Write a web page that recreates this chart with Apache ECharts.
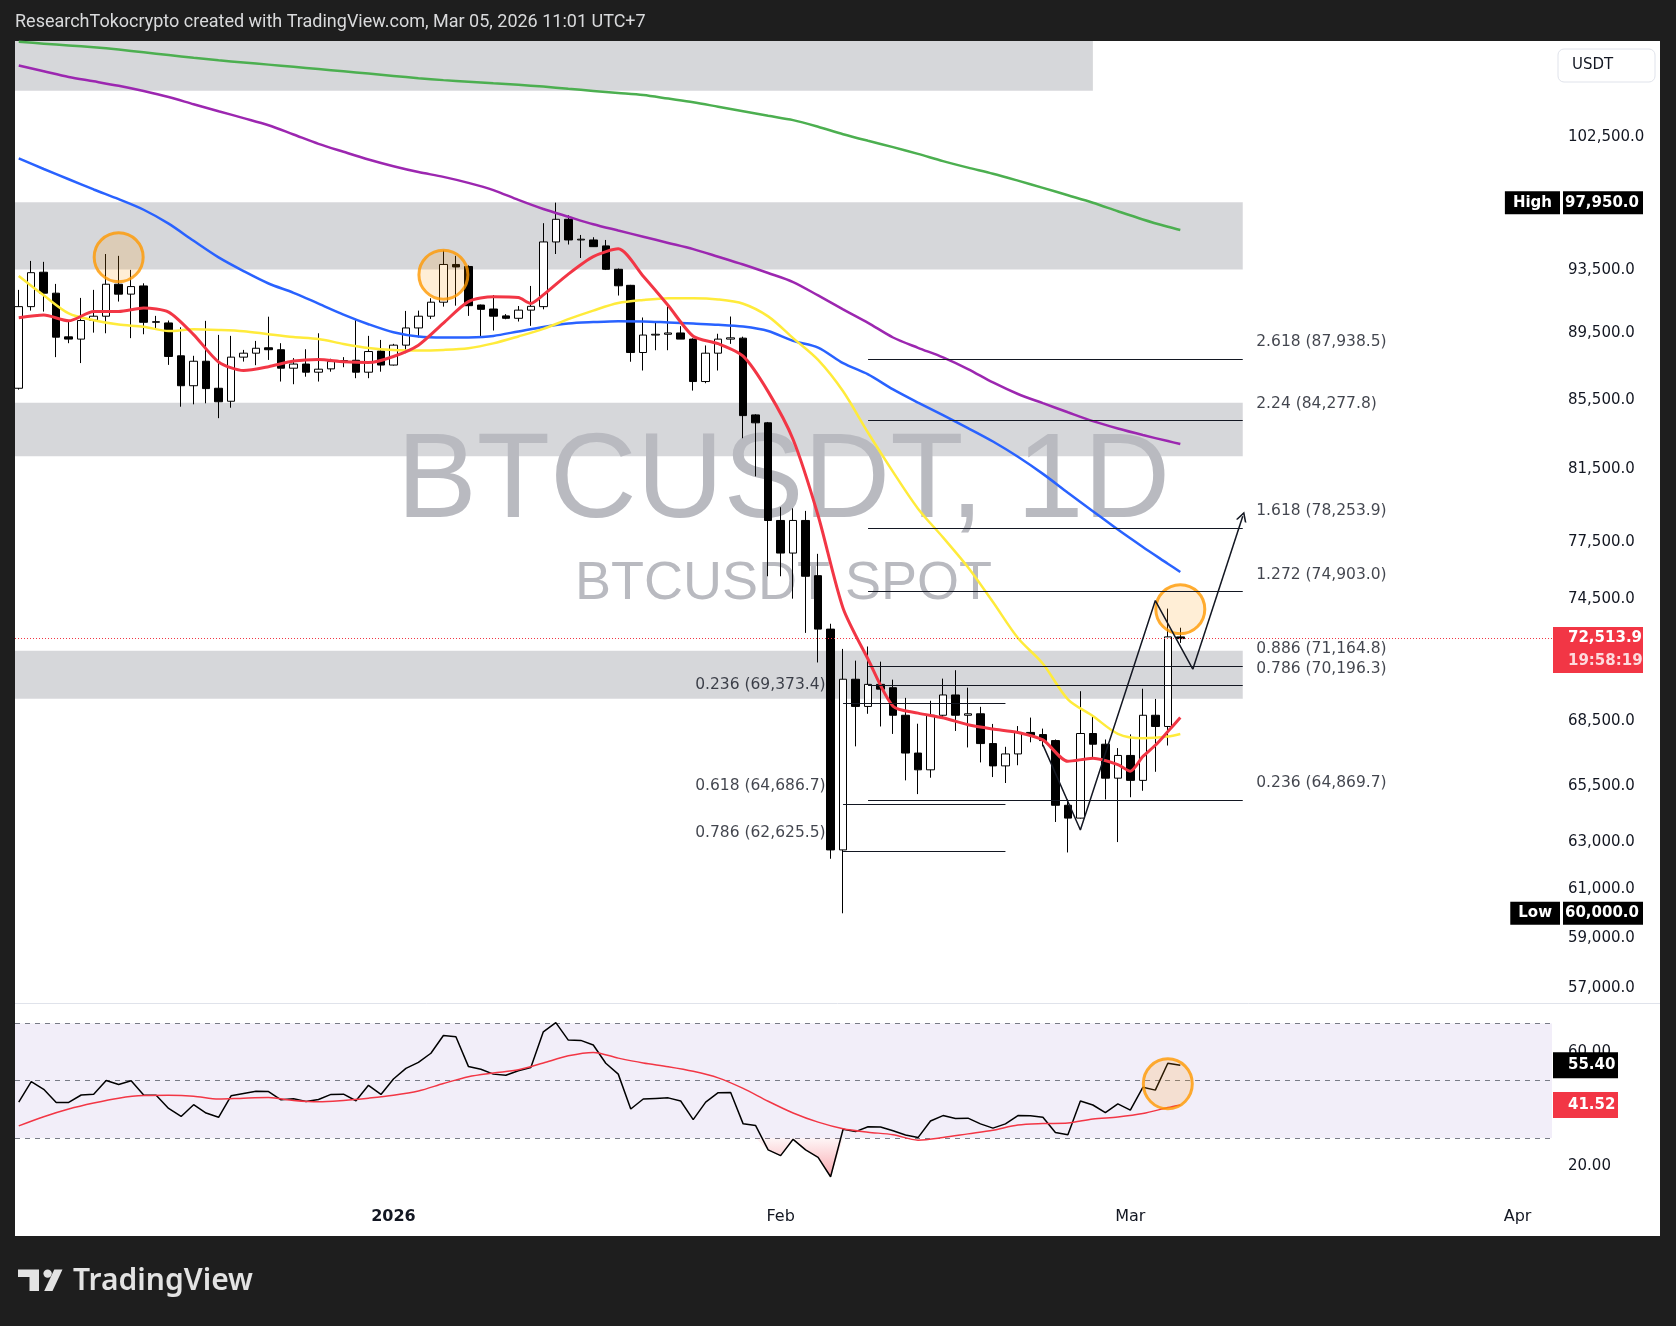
<!DOCTYPE html>
<html><head><meta charset="utf-8">
<script src="https://cdn.jsdelivr.net/npm/echarts@6/dist/echarts.min.js"></script>
<style>html,body{margin:0;padding:0;background:#1e1e1e;}#c{width:1676px;height:1326px;}</style>
</head><body><div id="c"></div>
<script>
// ---------------- DATA ----------------
const dates = ['2025-12-02','2025-12-03','2025-12-04','2025-12-05','2025-12-06','2025-12-07','2025-12-08','2025-12-09','2025-12-10','2025-12-11','2025-12-12','2025-12-13','2025-12-14','2025-12-15','2025-12-16','2025-12-17','2025-12-18','2025-12-19','2025-12-20','2025-12-21','2025-12-22','2025-12-23','2025-12-24','2025-12-25','2025-12-26','2025-12-27','2025-12-28','2025-12-29','2025-12-30','2025-12-31',
'2026-01-01','2026-01-02','2026-01-03','2026-01-04','2026-01-05','2026-01-06','2026-01-07','2026-01-08','2026-01-09','2026-01-10','2026-01-11','2026-01-12','2026-01-13','2026-01-14','2026-01-15','2026-01-16','2026-01-17','2026-01-18','2026-01-19','2026-01-20','2026-01-21','2026-01-22','2026-01-23','2026-01-24','2026-01-25','2026-01-26','2026-01-27','2026-01-28','2026-01-29','2026-01-30','2026-01-31',
'2026-02-01','2026-02-02','2026-02-03','2026-02-04','2026-02-05','2026-02-06','2026-02-07','2026-02-08','2026-02-09','2026-02-10','2026-02-11','2026-02-12','2026-02-13','2026-02-14','2026-02-15','2026-02-16','2026-02-17','2026-02-18','2026-02-19','2026-02-20','2026-02-21','2026-02-22','2026-02-23','2026-02-24','2026-02-25','2026-02-26','2026-02-27','2026-02-28',
'2026-03-01','2026-03-02','2026-03-03','2026-03-04','2026-03-05'];
const open = [86180,91170,93360,92020,89290,89150,90320,90570,92590,91960,92480,90190,90150,88130,86330,87800,86180,85410,88050,88290,88620,88500,87380,87630,87140,87340,87840,87860,87140,88420,
87570,88780,89840,90570,91450,93860,93730,91270,91020,90590,90440,90950,91170,95330,96830,95460,95460,95070,93550,92520,88330,89400,89450,89530,89150,86580,88290,89150,89210,84610,84150,
78670,76920,78670,75730,72990,62680,70510,69200,70260,70100,68780,67010,66240,68780,69750,68780,68850,67450,66420,66970,67970,67870,67590,64640,64070,67920,67420,65860,
66900,65760,68780,68250,72600];
const high = [92230,94090,94030,92610,90240,91720,92230,94540,94420,93510,92650,90590,90300,89880,88130,90280,89410,89350,88490,89040,90540,88900,87990,88530,89510,87950,88050,90400,89350,89100,
88860,90900,90920,91700,94760,94420,93800,91300,91900,90700,91210,92480,96570,97950,97100,95790,95640,95460,93600,92550,90490,90270,91180,89950,89200,88760,89480,90550,89300,84650,84200,
79390,79330,79190,76880,73260,72000,71420,72120,71370,70490,69610,68380,69470,70540,70950,70100,69180,68370,67300,68270,68670,68150,67640,64900,69930,68780,67640,67240,
67880,70050,69560,74030,73060];
const low = [86100,90920,90860,88050,88900,87690,89550,89510,91490,89210,89450,89760,87580,85090,85230,85290,84420,85030,87780,87560,87880,86580,86420,86870,86580,87170,87440,86780,86780,87170,
87540,88290,89250,90400,91170,91230,90590,89250,89680,90380,90240,89970,91000,94540,95160,94280,95000,93500,91870,87770,87240,88470,88470,89150,86040,86480,87240,88860,83260,81100,75700,
75700,74540,72800,71330,62300,60000,67320,68850,68250,67900,65760,65140,65880,68600,68040,67270,66580,65910,65640,66450,67510,67320,63900,62570,64050,66830,64900,63020,
65000,65290,66150,67360,72300];
const close = [91170,93330,92020,89270,89150,90300,90570,92590,91960,92440,90190,90230,88090,86330,87800,86160,85380,88050,88290,88590,88500,87380,87630,87140,87320,87780,87760,87140,88390,87570,
88780,89840,90570,91450,93860,93700,91230,91000,90570,90440,90950,91190,95330,96830,95460,95510,95020,93550,92490,88330,89400,89450,89530,89150,86580,88290,89150,89230,84570,84150,78670,
76920,78670,75700,72990,62680,70510,69200,70260,70030,68780,67010,66240,68780,69750,68780,68850,67450,66420,66970,67970,67840,67590,64640,64070,67920,67420,65860,66900,
65760,68780,68250,72600,72513.9];

const rsi = [42.5,49.7,47.0,42.4,42.4,45.0,45.3,50.1,48.7,50.0,45.0,44.9,40.3,37.5,41.6,38.7,37.2,44.7,45.5,46.3,46.2,43.3,43.7,42.7,43.4,45.2,45.3,43.0,48.4,45.2,
50.6,54.3,56.4,59.6,65.8,65.4,55.0,54.0,52.3,51.9,53.5,54.6,67.1,70.3,64.2,64.1,62.5,56.1,52.3,40.1,43.6,43.8,44.0,42.9,36.4,42.5,45.8,45.9,34.9,34.3,25.8,
23.8,29.5,25.8,23.2,16.4,33.0,32.2,33.9,33.8,32.5,31.0,30.1,35.9,37.8,36.8,36.9,34.9,33.4,34.9,37.8,37.7,37.2,31.9,31.1,42.9,41.5,38.8,41.9,
39.7,47.7,46.7,56.1,55.4];

const maDates = ['2025-12-02','2025-12-04','2025-12-06','2025-12-08','2025-12-10','2025-12-12','2025-12-14','2025-12-16','2025-12-18','2025-12-20','2025-12-22','2025-12-24','2025-12-26','2025-12-28','2025-12-30',
'2026-01-01','2026-01-03','2026-01-05','2026-01-07','2026-01-09','2026-01-11','2026-01-13','2026-01-15','2026-01-17','2026-01-19','2026-01-21','2026-01-23','2026-01-25','2026-01-27','2026-01-29','2026-01-31',
'2026-02-02','2026-02-04','2026-02-06','2026-02-08','2026-02-10','2026-02-12','2026-02-14','2026-02-16','2026-02-18','2026-02-20','2026-02-22','2026-02-24','2026-02-26','2026-02-28','2026-03-02','2026-03-04','2026-03-05'];
const rsiMa = [34.2,37.4,40.1,42.2,43.9,44.8,44.9,44.6,43.6,43.9,44.1,43.1,42.6,43.1,43.9,
44.9,46.4,49.0,51.4,52.7,53.8,56.2,58.7,59.9,57.9,56.2,54.9,53.3,51.0,47.3,42.8,
38.7,35.5,33.2,32.0,31.1,29.2,30.1,31.4,32.7,34.5,35.0,35.2,36.6,37.3,38.5,40.6,41.52];
const maGreen = [109440,109300,109165,109030,108857,108650,108445,108243,108050,107890,107730,107567,107403,107237,107066,
106897,106728,106585,106468,106351,106241,106109,105948,105797,105651,105498,105236,104974,104648,104320,103996,
103686,103215,102685,102217,101773,101300,100796,100345,99920,99445,98953,98447,97942,97370,96821,96335,96123];
const maPurple = [107664,107237,106815,106497,106167,105782,105346,104829,104326,103830,103321,102664,102005,101447,100909,
100442,100038,99707,99294,98801,98131,97517,97002,96502,96083,95673,95266,94859,94363,93857,93308,
92731,91878,91002,90159,89250,88618,88034,87327,86524,85840,85298,84764,84245,83817,83442,83097,82925];
const maBlue = [100987,100249,99543,98843,98183,97470,96541,95404,94318,93431,92636,92044,91360,90670,90072,
89571,89305,89243,89256,89349,89626,89905,90116,90203,90259,90247,90178,90110,90041,89924,89651,
89042,88631,87683,87008,86113,85333,84594,83845,83074,82203,81239,80193,79177,78175,77244,76360,75919];
const maYellow = [93122,91885,90746,90315,90047,89917,89645,89762,89719,89639,89453,89280,89158,88857,88609,
88479,88454,88491,88595,88888,89314,89781,90384,90921,91393,91588,91702,91702,91626,91355,90560,
89214,87883,85999,83575,81352,79314,77757,76171,74368,72542,71267,69543,68742,67907,67701,67776,67893];
const maRed = [['2025-12-02',90470],['2025-12-04',90640],['2025-12-06',90280],['2025-12-08',90860],['2025-12-10',90860],['2025-12-12',91080],['2025-12-14',90830],['2025-12-16',89430],['2025-12-18',87760],['2025-12-20',87240],['2025-12-22',87470],['2025-12-24',87810],['2025-12-26',87910],['2025-12-28',87770],['2025-12-30',87720],
['2026-01-01',88090],['2026-01-03',88780],['2026-01-05',90140],['2026-01-07',91490],['2026-01-09',91800],['2026-01-11',91740],['2026-01-12',91370],['2026-01-13',91910],['2026-01-15',93240],['2026-01-17',94370],['2026-01-19',94880],['2026-01-21',93100],['2026-01-23',91240],['2026-01-25',89330],['2026-01-27',88870],['2026-01-29',88110],['2026-01-31',85980],
['2026-02-02',83190],['2026-02-04',78940],['2026-02-06',74050],['2026-02-08',71490],['2026-02-10',69210],['2026-02-12',68880],['2026-02-14',68660],['2026-02-16',68330],['2026-02-18',68130],['2026-02-20',67970],['2026-02-22',67620],['2026-02-24',66630],['2026-02-26',66770],['2026-02-28',66480],
['2026-03-01',66180],['2026-03-02',66850],['2026-03-03',67370],['2026-03-04',68010],['2026-03-05',68670]];

const zoneEnd = ['2026-02-26','2026-03-10','2026-03-10','2026-03-10'];
const zoneLow = [105800,93530,82230,69570];
const zoneHigh = [109500,97980,85320,71910];

const fibRightRange = ['2026-02-08','2026-03-10'];
const fibRightRatios = ['2.618','2.24','1.618','1.272','0.886','0.786','0.236'];
const fibRightLevels = [87938.5,84277.8,78253.9,74903.0,71164.8,70196.3,64869.7];
const fibLeftRange = ['2026-02-06','2026-02-19'];
const fibLeftRatios = ['0.236','0.618','0.786'];
const fibLeftLevels = [69373.4,64686.7,62625.5];

const pathDates = ['2026-02-22','2026-02-25','2026-03-03','2026-03-06','2026-03-10'];
const pathPrices = [67390,63550,74440,71000,78900];

const circleDates = ['2025-12-10','2026-01-05','2026-03-05'];
const circlePrices = [94330,93200,74000];
const rsiCircleDate = '2026-03-04';
const rsiCircleValue = 48.9;

const priceTicks = [102500,93500,89500,85500,81500,77500,74500,68500,65500,63000,61000,59000,57000];
const highValue = 97950, lowValue = 60000;
const lastPrice = 72513.9, countdown = '19:58:19';
const rsiTicks = [20, 60];
const rsiLast = 55.40, rsiMaLast = 41.52;
const rsiOversold = 30;
const monthTicks = ['2026-01-01','2026-02-01','2026-03-01','2026-04-01'];
const monthLabels = ['2026','Feb','Mar','Apr'];

// ---------------- HELPERS ----------------
const DAY0 = Date.UTC(2026,0,1);
const dayOf = s => { const p = s.split('-').map(Number); return (Date.UTC(p[0],p[1]-1,p[2]) - DAY0) / 86400000; };
const L = Math.log;
const fmt1 = v => v.toLocaleString('en-US',{minimumFractionDigits:1,maximumFractionDigits:1});
const VIEW_START = -30.3, VIEW_END = 92.76;
const Y_MIN = L(56400), Y_MAX = L(109500);
const RSI_MIN = 6.17, RSI_MAX = 76.83;
const FONT = 'DejaVu Sans';
const TXT = '#131722';

const candleData = dates.map((d,i) => [dayOf(d), L(open[i]), L(close[i]), L(low[i]), L(high[i])]);
const maPts = vals => maDates.map((d,i) => [dayOf(d), L(vals[i])]);

const baseY = {type:'value', position:'right', axisLine:{show:false,onZero:false}, axisTick:{show:false}, splitLine:{show:false}};
const lineSeries = (name, data, color, width, smooth) => ({
  type:'line', name, xAxisIndex:0, yAxisIndex:0, data, showSymbol:false, symbol:'none', smooth,
  lineStyle:{color, width}, z:3, silent:true
});

const fibLines = [];
const fibLabels = [];
fibRightLevels.forEach((p,i) => {
  fibLines.push([{coord:[dayOf(fibRightRange[0]), L(p)]},{coord:[dayOf(fibRightRange[1]), L(p)]}]);
  fibLabels.push({name: fibRightRatios[i] + ' (' + fmt1(p) + ')', value:[dayOf(fibRightRange[1]), L(p)],
    label:{position:'right', distance:13, offset:[0,-17]}});
});
fibLeftLevels.forEach((p,i) => {
  fibLines.push([{coord:[dayOf(fibLeftRange[0]), L(p)]},{coord:[dayOf(fibLeftRange[1]), L(p)]}]);
  fibLabels.push({name: fibLeftRatios[i] + ' (' + fmt1(p) + ')', value:[dayOf(fibLeftRange[0]), L(p)],
    label:{position:'left', distance:17, offset:[0,-18]}});
});

const circleStyle = {color:'rgba(255,152,0,0.2)', borderColor:'#ff9800', borderWidth:3};
const boxTok = (bg, col, w, pad, lh) => ({backgroundColor:bg, color:col, fontWeight:'bold', fontSize:15, fontFamily:FONT, width:w, padding:pad, lineHeight:lh, height:lh});

const option = {
  animation:false,
  backgroundColor:'#1e1e1e',
  textStyle:{fontFamily:FONT},
  grid:[
    {left:15, top:41, width:1537, height:962, outerBoundsMode:'none', containLabel:false},
    {left:15, top:1004, width:1537, height:202, outerBoundsMode:'none', containLabel:false}
  ],
  xAxis:[
    {gridIndex:0, type:'value', min:VIEW_START, max:VIEW_END, show:false, axisLine:{onZero:false}, splitLine:{show:false}},
    {gridIndex:1, type:'value', min:VIEW_START, max:VIEW_END, axisLine:{show:false,onZero:false}, axisTick:{show:false}, splitLine:{show:false},
      axisLabel:{customValues: monthTicks.map(dayOf), margin:3, color:TXT, fontSize:16, fontFamily:FONT, hideOverlap:false,
        formatter: v => { const i = monthTicks.map(dayOf).indexOf(Math.round(v)); return i === 0 ? '{y|' + monthLabels[i] + '}' : (i > 0 ? monthLabels[i] : ''); },
        rich:{y:{fontWeight:'bold', fontSize:16, color:TXT, fontFamily:FONT}}}}
  ],
  yAxis:[
    Object.assign({}, baseY, {gridIndex:0, min:Y_MIN, max:Y_MAX,
      axisLabel:{customValues: priceTicks.map(L), formatter: v => fmt1(Math.round(Math.exp(v)*10)/10), margin:16, align:'left', color:TXT, fontSize:15, fontFamily:FONT, hideOverlap:false}}),
    Object.assign({}, baseY, {gridIndex:0, min:Y_MIN, max:Y_MAX, z:2,
      axisLabel:{customValues:[L(highValue), L(lowValue)], margin:91, align:'right', hideOverlap:false,
        formatter: v => Math.exp(v) > 80000 ? '{h|High}{g| }{v|' + fmt1(highValue) + '}' : '{h|Low}{g| }{v|' + fmt1(lowValue) + '}',
        rich:{h:boxTok('#000','#fff',null,[0,8],23), g:{width:3, fontSize:15}, v:boxTok('#000','#fff',71,[0,4,0,5],23)}}}),
    Object.assign({}, baseY, {gridIndex:0, min:Y_MIN, max:Y_MAX, z:3,
      axisLabel:{customValues:[L(lastPrice)], margin:1, align:'left', hideOverlap:false,
        formatter: () => '{s| }\n{p|' + fmt1(lastPrice) + '}\n{t|' + countdown + '}',
        rich:{s:{lineHeight:23, height:23, fontSize:12}, p:boxTok('#f23645','#fff',67,[0,8,0,15],23), t:boxTok('#f23645','rgba(255,255,255,0.82)',67,[0,8,0,15],23)}}}),
    Object.assign({}, baseY, {gridIndex:1, min:RSI_MIN, max:RSI_MAX,
      axisLabel:{customValues:rsiTicks, formatter: v => v.toFixed(2), margin:16, align:'left', color:TXT, fontSize:15, fontFamily:FONT, hideOverlap:false}}),
    Object.assign({}, baseY, {gridIndex:1, min:RSI_MIN, max:RSI_MAX, z:3,
      axisLabel:{customValues:[rsiLast, rsiMaLast], margin:1, align:'left', hideOverlap:false,
        formatter: v => v > 50 ? '{b|' + rsiLast.toFixed(2) + '}' : '{r|' + rsiMaLast.toFixed(2) + '}',
        rich:{b:boxTok('#000','#fff',47,[0,3,0,15],26), r:boxTok('#f23645','#fff',47,[0,3,0,15],26)}}})
  ],
  graphic:[
    {type:'rect', shape:{x:15,y:41,width:1645,height:1195}, style:{fill:'#ffffff'}, z:-100, silent:true},
    {type:'line', shape:{x1:15,y1:1003.5,x2:1660,y2:1003.5}, style:{stroke:'#e0e3eb', lineWidth:1}, z:-99, silent:true},
    {type:'text', x:15, y:22.5, z:10, style:{text:'ResearchTokocrypto created with TradingView.com, Mar 05, 2026 11:01 UTC+7', font:'18px Roboto', fill:'#d9dadc', verticalAlign:'middle'}},
    {type:'rect', shape:{x:1558,y:49,width:97,height:33,r:6}, style:{fill:'#ffffff', stroke:'#e0e3eb', lineWidth:1}, z:-50},
    {type:'text', x:1572, y:65.5, z:10, style:{text:'USDT', font:'15px "DejaVu Sans"', fill:TXT, verticalAlign:'middle'}},
    {type:'text', x:783.5, y:484, z:1.5, silent:true, style:{text:'BTCUSDT, 1D', font:'120px "Liberation Sans"', fill:'#b9bac0', align:'center', verticalAlign:'middle'}},
    {type:'text', x:783.5, y:584, z:1.5, silent:true, style:{text:'BTCUSDT SPOT', font:'54px "Liberation Sans"', fill:'#b9bac0', align:'center', verticalAlign:'middle'}},
    {type:'polygon', z:10, shape:{points:[[18,1269.5],[39,1269.5],[39,1291],[29.5,1291],[29.5,1277],[18,1277]]}, style:{fill:'#e3e3e3'}},
    {type:'circle', z:10, shape:{cx:47.6,cy:1273.6,r:4.2}, style:{fill:'#e3e3e3'}},
    {type:'polygon', z:10, shape:{points:[[54.3,1269.5],[62.5,1269.5],[52.5,1291],[44.2,1291]]}, style:{fill:'#e3e3e3'}},
    {type:'text', x:73, y:1281, z:10, style:{text:'TradingView', font:'600 30px "Noto Sans"', fill:'#e3e3e3', verticalAlign:'middle'}}
  ],
  series:[
    {type:'candlestick', name:'BTCUSDT', xAxisIndex:0, yAxisIndex:0, data:candleData, barWidth:8, z:2, silent:true,
      itemStyle:{color:'#ffffff', color0:'#000000', borderColor:'#000000', borderColor0:'#000000', borderColorDoji:'#000000', borderWidth:1},
      markArea:{silent:true, z:1, itemStyle:{color:'rgba(120,123,134,0.3)'},
        data: zoneEnd.map((e,i) => [{coord:[VIEW_START, L(zoneHigh[i])]},{coord:[dayOf(e), L(zoneLow[i])]}])},
      markLine:{silent:true, symbol:['none','none'], label:{show:false}, z:5,
        lineStyle:{color:TXT, width:1, type:'solid'},
        data: fibLines.concat([[{coord:[VIEW_START, L(lastPrice)], lineStyle:{color:'#f23645', type:[1,2], width:1}},{coord:[VIEW_END, L(lastPrice)]}]])}
    },
    lineSeries('MA200', maPts(maGreen), '#4caf50', 2.5, 0.3),
    lineSeries('MA100', maPts(maPurple), '#9c27b0', 2.5, 0.3),
    lineSeries('MA50', maPts(maBlue), '#2962ff', 2.5, 0.3),
    lineSeries('MA20', maPts(maYellow), '#ffeb3b', 2.5, 0.3),
    lineSeries('EMA9', maRed.map(p => [dayOf(p[0]), L(p[1])]), '#f23645', 3, 0.25),
    {type:'scatter', name:'marks', xAxisIndex:0, yAxisIndex:0, symbol:'circle', symbolSize:49, z:4, silent:true,
      itemStyle:circleStyle, data: circleDates.map((d,i) => [dayOf(d), L(circlePrices[i])])},
    {type:'line', name:'path', xAxisIndex:0, yAxisIndex:0, z:5, silent:true, showSymbol:false, symbol:'none',
      lineStyle:{color:TXT, width:1.5},
      data: pathDates.slice(0,4).map((d,i) => [dayOf(d), L(pathPrices[i])]),
      markLine:{silent:true, z:5, label:{show:false}, symbol:['none','path://M5,0 L10,10 L8.4,10 L5,3.2 L1.6,10 L0,10 Z'], symbolSize:[11,10],
        lineStyle:{color:TXT, width:1.5, type:'solid'},
        data:[[{coord:[dayOf(pathDates[3]), L(pathPrices[3])]},{coord:[dayOf(pathDates[4]), L(pathPrices[4])]}]]}},
    {type:'scatter', name:'fibLabels', xAxisIndex:0, yAxisIndex:0, symbolSize:1, z:6, silent:true, clip:false,
      itemStyle:{color:'rgba(0,0,0,0)'},
      label:{show:true, formatter:'{b}', color:TXT, fontSize:15.5, fontFamily:FONT},
      data: fibLabels},
    // RSI pane
    {type:'line', name:'rsiOS', xAxisIndex:1, yAxisIndex:3, silent:true, showSymbol:false, symbol:'none',
      lineStyle:{width:0, opacity:0},
      areaStyle:{origin:rsiOversold, color:{type:'linear',x:0,y:0,x2:0,y2:1,colorStops:[{offset:0,color:'rgba(242,54,69,0.06)'},{offset:1,color:'rgba(242,54,69,0.6)'}]}},
      data: dates.map((d,i) => [dayOf(d), Math.min(rsi[i], rsiOversold)]), z:1},
    {type:'line', name:'RSI', xAxisIndex:1, yAxisIndex:3, silent:true, showSymbol:false, symbol:'none', z:3,
      lineStyle:{color:'#000000', width:1.5}, data: dates.map((d,i) => [dayOf(d), rsi[i]]),
      markArea:{silent:true, z:0, itemStyle:{color:'rgba(126,87,194,0.1)'}, data:[[{yAxis:30},{yAxis:70}]]},
      markLine:{silent:true, symbol:['none','none'], label:{show:false}, z:1,
        lineStyle:{color:'#787b86', type:[5,5], width:1}, data:[{yAxis:70},{yAxis:50},{yAxis:30}]}},
    {type:'line', name:'RSI MA', xAxisIndex:1, yAxisIndex:3, silent:true, showSymbol:false, symbol:'none', z:3, smooth:0.3,
      lineStyle:{color:'#f23645', width:1.5}, data: maDates.map((d,i) => [dayOf(d), rsiMa[i]])},
    {type:'scatter', name:'rsiMark', xAxisIndex:1, yAxisIndex:3, symbol:'circle', symbolSize:[49,50], z:4, silent:true,
      itemStyle:circleStyle, data:[[dayOf(rsiCircleDate), rsiCircleValue]]}
  ]
};

const chart = echarts.init(document.getElementById('c'), null, {renderer:'canvas', width:1676, height:1326});
chart.setOption(option);
</script>
</body></html>
